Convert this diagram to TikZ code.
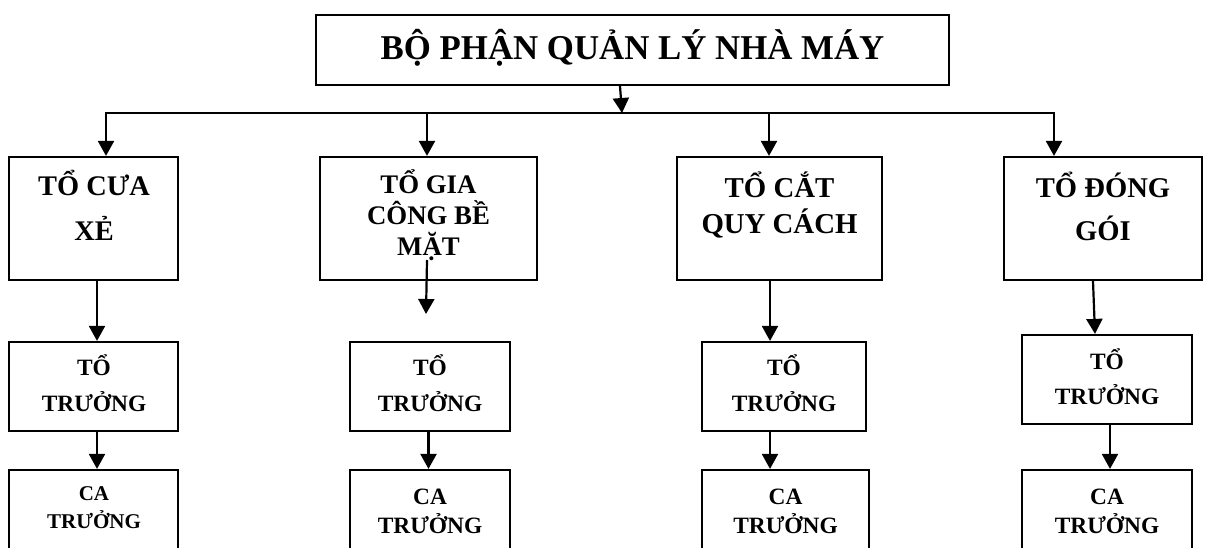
\documentclass[tikz,border=0pt]{standalone}
\usepackage{fontspec}
\setmainfont{Liberation Serif}
\usetikzlibrary{arrows.meta}
\begin{document}
\begin{tikzpicture}[x=0.5pt,y=-0.5pt,
  box/.style 2 args={draw, line width=1.1pt, inner sep=0pt, rectangle,
    minimum width=#1*0.5pt, minimum height=#2*0.5pt},
  lbl/.style={inner sep=0pt, align=center, anchor=base},
  fs/.style 2 args={font={\fontsize{#1}{#2}\selectfont\bfseries}},
  link/.style={line width=1.1pt, -{Triangle[length=7.5pt,width=8pt]}},
  bus/.style={line width=1.1pt, line cap=rect}]
\path[use as bounding box] (0,0) rectangle (1205,547);
\clip (0,0) rectangle (1205,547);

% ---- boxes ----
\node[box={633}{70}]  (top) at (632.5,50) {};
\node[box={169}{123}] (b1) at (93.5,218.5) {};
\node[box={217}{123}] (b2) at (428.5,218.5) {};
\node[box={205}{123}] (b3) at (779.5,218.5) {};
\node[box={198}{123}] (b4) at (1103,218.5) {};
\node[box={169}{89}]  (t1) at (93.5,386.5) {};
\node[box={160}{89}]  (t2) at (430,386.5) {};
\node[box={164}{89}]  (t3) at (784,386.5) {};
\node[box={170}{89}]  (t4) at (1107,379.5) {};
\node[box={169}{130}] (c1) at (93.5,535) {};
\node[box={160}{130}] (c2) at (430,535) {};
\node[box={167}{130}] (c3) at (785.5,535) {};
\node[box={170}{130}] (c4) at (1107,535) {};

% ---- texts (anchored on the baseline of the last line) ----
\node[lbl, fs={17.4}{20}] (topL) at (632.5,59) {BỘ PHẬN QUẢN LÝ NHÀ MÁY};
\node[lbl, fs={14.2}{22.5}] (b1L) at (94,240) {TỔ CƯA\\XẺ};
\node[lbl, fs={13.4}{15.5}] (b2L) at (428.5,255) {TỔ GIA\\CÔNG BỀ\\MẶT};
\node[lbl, fs={14.4}{18}] (b3L) at (779.5,233) {TỔ CẮT\\QUY CÁCH};
\node[lbl, fs={14.3}{21.5}] (b4L) at (1103,240) {TỔ ĐÓNG\\GÓI};
\node[lbl, fs={11.7}{18}] (t1L) at (94,411) {TỔ\\TRƯỞNG};
\node[lbl, fs={11.7}{18}] (t2L) at (430,411) {TỔ\\TRƯỞNG};
\node[lbl, fs={11.7}{18}] (t3L) at (784,411) {TỔ\\TRƯỞNG};
\node[lbl, fs={11.7}{17.5}] (t4L) at (1107,404) {TỔ\\TRƯỞNG};
\node[lbl, fs={10.5}{14}] (c1L) at (94,528) {CA\\TRƯỞNG};
\node[lbl, fs={11.7}{14.5}] (c2L) at (430,533) {CA\\TRƯỞNG};
\node[lbl, fs={11.7}{14.5}] (c3L) at (785.5,533) {CA\\TRƯỞNG};
\node[lbl, fs={11.7}{14.5}] (c4L) at (1107,533) {CA\\TRƯỞNG};

% ---- distribution bus ----
\coordinate (busL) at (106,113);
\coordinate (busR) at (1054,113);
\coordinate (busC) at (622,113);
\coordinate (d2) at (427,113);
\coordinate (d3) at (769,113);
\coordinate (x3) at (770,0);
\coordinate (g2a) at (427,260);
\coordinate (g2b) at (426,314);

\draw[link] ([xshift=-6.25pt]top.south) -- (busC);
\draw[bus] (busL) -- (busR);
\draw[link] (busL) -- (busL |- b1.north);
\draw[link] (d2) -- (d2 |- b2.north);
\draw[link] (d3) -- (d3 |- b3.north);
\draw[link] (busR) -- (busR |- b4.north);

% ---- columns ----
\draw[link] ([xshift=1.75pt]b1.south) -- ([xshift=1.75pt]t1.north);
\draw[link] ([xshift=1.75pt]t1.south) -- ([xshift=1.75pt]c1.north);

\draw[link] (g2a) -- (g2b);
\draw[link] ([xshift=-0.75pt]t2.south) -- ([xshift=-0.75pt]c2.north);

\draw[link] (x3 |- b3.south) -- (x3 |- t3.north);
\draw[link] (x3 |- t3.south) -- (x3 |- c3.north);

\draw[link] ([xshift=-5pt]b4.south) -- ([xshift=-6pt]t4.north);
\draw[link] ([xshift=1.5pt]t4.south) -- ([xshift=1.5pt]c4.north);
\end{tikzpicture}
\end{document}
